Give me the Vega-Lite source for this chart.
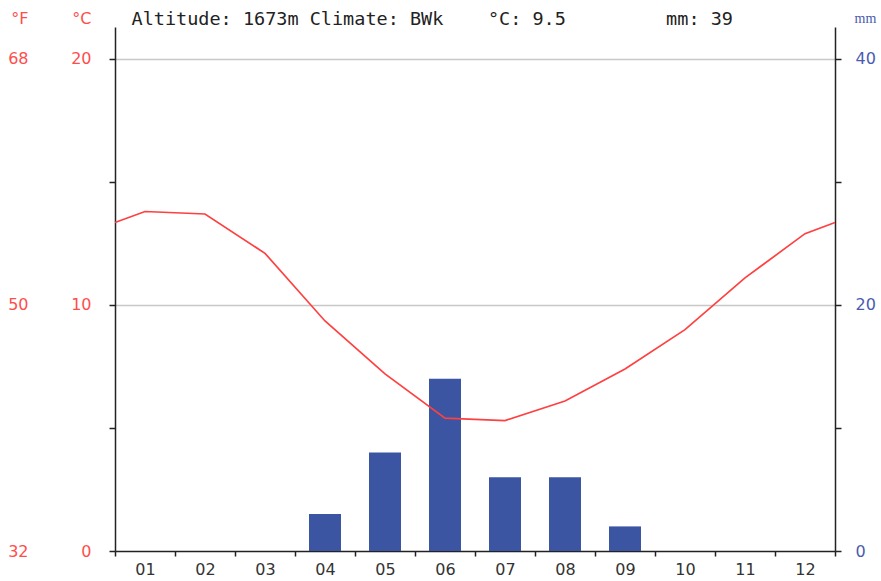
{
  "$schema": "https://vega.github.io/schema/vega-lite/v6.json",
  "width": 720,
  "height": 524,
  "autosize": {"type": "none"},
  "padding": {"left": 115, "top": 27, "right": 46, "bottom": 30},
  "background": "white",
  "datasets": {
    "temp": [
      {"month": 0.5, "temp": 13.35},
      {"month": 1, "temp": 13.8},
      {"month": 2, "temp": 13.7},
      {"month": 3, "temp": 12.1},
      {"month": 4, "temp": 9.35},
      {"month": 5, "temp": 7.2},
      {"month": 6, "temp": 5.4},
      {"month": 7, "temp": 5.3},
      {"month": 8, "temp": 6.1},
      {"month": 9, "temp": 7.4},
      {"month": 10, "temp": 9.0},
      {"month": 11, "temp": 11.1},
      {"month": 12, "temp": 12.9},
      {"month": 12.5, "temp": 13.35}
    ],
    "precip": [
      {"month": 1, "mm": 0},
      {"month": 2, "mm": 0},
      {"month": 3, "mm": 0},
      {"month": 4, "mm": 3},
      {"month": 5, "mm": 8},
      {"month": 6, "mm": 14},
      {"month": 7, "mm": 6},
      {"month": 8, "mm": 6},
      {"month": 9, "mm": 2},
      {"month": 10, "mm": 0},
      {"month": 11, "mm": 0},
      {"month": 12, "mm": 0}
    ]
  },
  "config": {
    "view": {"stroke": null},
    "axis": {
      "labelFont": "DejaVu Sans",
      "labelFontSize": 16,
      "titleFont": "DejaVu Sans",
      "titleFontSize": 16,
      "titleFontWeight": "normal",
      "domainColor": "#222222",
      "tickColor": "#222222",
      "domainWidth": 1.5,
      "tickWidth": 1.5,
      "tickSize": 6
    }
  },
  "resolve": {"scale": {"y": "independent"}, "axis": {"y": "independent"}},
  "encoding": {
    "x": {
      "field": "month",
      "type": "quantitative",
      "scale": {"domain": [0.5, 12.5], "nice": false, "zero": false, "padding": 0},
      "axis": {
        "title": "Altitude: 1673m Climate: BWk\u00a0\u00a0\u00a0\u00a0°C: 9.5\u00a0\u00a0\u00a0\u00a0\u00a0\u00a0\u00a0\u00a0\u00a0mm: 39",
        "titleFont": "DejaVu Sans Mono",
        "titleFontSize": 18.5,
        "titleColor": "#222222",
        "titleAngle": 0,
        "titleAlign": "left",
        "titleBaseline": "middle",
        "titleX": 16,
        "titleY": -533,
        "grid": false,
        "values": [0.5, 1.5, 2.5, 3.5, 4.5, 5.5, 6.5, 7.5, 8.5, 9.5, 10.5, 11.5, 12.5],
        "labelExpr": "datum.value > 12 ? '' : (datum.value < 9 ? '0' : '') + (datum.value + 0.5)",
        "labelOffset": 30,
        "labelPadding": 5,
        "labelColor": "#333333",
        "labelOverlap": false,
        "labelFlush": false,
        "labelBound": false,
        "tickSize": 5
      }
    }
  },
  "layer": [
    {
      "data": {"name": "precip"},
      "mark": {"type": "bar", "size": 32, "color": "#3b55a3"},
      "encoding": {
        "y": {
          "field": "mm",
          "type": "quantitative",
          "scale": {"domain": [0, 42.6], "nice": false, "zero": true},
          "axis": {
            "orient": "right",
            "values": [0, 10, 20, 30, 40],
            "labelExpr": "datum.value % 20 == 0 ? datum.label : ''",
            "grid": false,
            "labelColor": "#4a5bb0",
            "labelPadding": 14,
            "title": "mm",
            "titleFont": "Liberation Serif",
            "titleFontSize": 14,
            "titleColor": "#4a5bb0",
            "titleAngle": 0,
            "titleAlign": "left",
            "titleBaseline": "middle",
            "titleX": 19,
            "titleY": -9
          }
        }
      }
    },
    {
      "data": {"name": "temp"},
      "mark": {"type": "line", "color": "#ff4040", "strokeWidth": 1.7},
      "encoding": {
        "y": {
          "field": "temp",
          "type": "quantitative",
          "scale": {"domain": [0, 21.3], "nice": false, "zero": true},
          "axis": {
            "orient": "left",
            "values": [0, 5, 10, 15, 20],
            "labelExpr": "datum.value % 10 == 0 ? datum.label : ''",
            "grid": true,
            "gridColor": "#c8c8c8",
            "gridWidth": 1.5,
            "gridOpacity": {"condition": {"test": "datum.value % 10 == 0 && datum.value > 0", "value": 1}, "value": 0},
            "labelColor": "#ff4d4d",
            "labelPadding": 18,
            "title": "°C",
            "titleColor": "#ff4d4d",
            "titleAngle": 0,
            "titleAlign": "right",
            "titleBaseline": "middle",
            "titleX": -24,
            "titleY": -9
          }
        }
      }
    },
    {
      "data": {"name": "temp"},
      "mark": {"type": "point", "opacity": 0},
      "encoding": {
        "y": {
          "field": "temp",
          "type": "quantitative",
          "scale": {"domain": [32, 70.34], "nice": false, "zero": false},
          "axis": {
            "orient": "left",
            "offset": 80,
            "values": [32, 50, 68],
            "domain": false,
            "ticks": false,
            "grid": false,
            "labelColor": "#ff4d4d",
            "labelPadding": 7,
            "title": "°F",
            "titleColor": "#ff4d4d",
            "titleAngle": 0,
            "titleAlign": "right",
            "titleBaseline": "middle",
            "titleX": -7,
            "titleY": -9
          }
        }
      }
    }
  ]
}
